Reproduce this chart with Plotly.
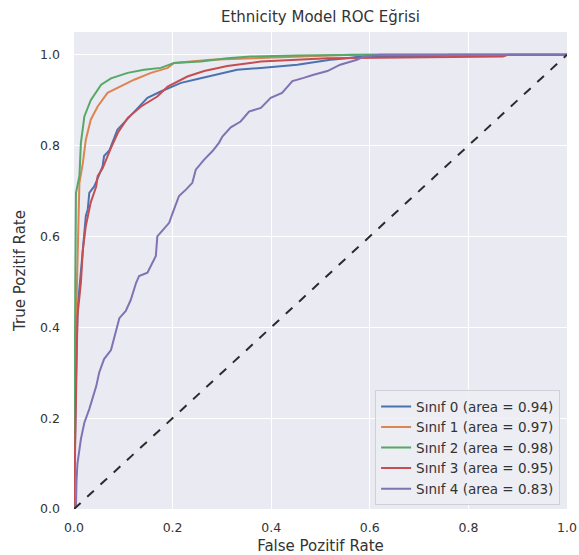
import plotly.graph_objects as go

# ---- data ----
class_names = ["Sınıf 0", "Sınıf 1", "Sınıf 2", "Sınıf 3", "Sınıf 4"]
class_auc = [0.94, 0.97, 0.98, 0.95, 0.83]

fpr_0 = [0, 0.002, 0.005, 0.008, 0.011, 0.014, 0.018, 0.024, 0.028, 0.031, 0.041, 0.045, 0.058, 0.061, 0.072,
         0.088, 0.105, 0.122, 0.149, 0.176, 0.217, 0.257, 0.291, 0.331, 0.379, 0.453, 0.52, 0.554, 0.58, 0.62,
         0.74, 0.76, 1.0]
tpr_0 = [0, 0.16, 0.35, 0.45, 0.484, 0.513, 0.571, 0.645, 0.66, 0.696, 0.71, 0.72, 0.754, 0.777, 0.79,
         0.835, 0.855, 0.875, 0.905, 0.919, 0.938, 0.948, 0.956, 0.967, 0.971, 0.978, 0.989, 0.992, 0.996, 0.997,
         0.997, 1.0, 1.0]

fpr_1 = [0, 0.002, 0.005, 0.007, 0.011, 0.018, 0.024, 0.034, 0.048, 0.068, 0.095, 0.122, 0.156, 0.19, 0.203,
         0.243, 0.277, 0.364, 0.5, 0.56, 1.0]
tpr_1 = [0, 0.3, 0.45, 0.542, 0.718, 0.762, 0.813, 0.857, 0.886, 0.916, 0.93, 0.945, 0.96, 0.971, 0.982,
         0.985, 0.989, 0.992, 0.998, 1.0, 1.0]

fpr_2 = [0, 0.001, 0.003, 0.004, 0.011, 0.014, 0.021, 0.034, 0.055, 0.075, 0.109, 0.142, 0.176, 0.203, 0.257,
         0.311, 0.358, 0.45, 0.6, 1.0]
tpr_2 = [0, 0.3, 0.55, 0.696, 0.733, 0.806, 0.864, 0.9, 0.934, 0.948, 0.96, 0.967, 0.971, 0.982, 0.985,
         0.992, 0.996, 0.998, 1.0, 1.0]

fpr_3 = [0, 0.004, 0.006, 0.007, 0.014, 0.018, 0.024, 0.034, 0.045, 0.048, 0.058, 0.075, 0.09, 0.109, 0.136,
         0.169, 0.19, 0.23, 0.264, 0.311, 0.379, 0.514, 0.87, 0.88, 1.0]
tpr_3 = [0, 0.28, 0.4, 0.425, 0.498, 0.571, 0.623, 0.675, 0.71, 0.733, 0.75, 0.795, 0.83, 0.861, 0.886,
         0.908, 0.93, 0.952, 0.964, 0.975, 0.985, 0.992, 0.996, 1.0, 1.0]

fpr_4 = [0, 0.004, 0.005, 0.007, 0.014, 0.021, 0.031, 0.045, 0.051, 0.061, 0.075, 0.085, 0.092, 0.105, 0.115,
         0.126, 0.132, 0.149, 0.159, 0.166, 0.169, 0.183, 0.193, 0.203, 0.213, 0.227, 0.24, 0.247, 0.264, 0.281,
         0.294, 0.301, 0.318, 0.338, 0.355, 0.379, 0.399, 0.422, 0.443, 0.466, 0.486, 0.514, 0.54, 0.574, 0.588,
         0.62, 1.0]
tpr_4 = [0, 0.007, 0.06, 0.1, 0.154, 0.19, 0.22, 0.27, 0.3, 0.33, 0.35, 0.39, 0.42, 0.436, 0.46,
         0.498, 0.513, 0.52, 0.542, 0.557, 0.6, 0.617, 0.63, 0.66, 0.689, 0.703, 0.718, 0.747, 0.769, 0.788,
         0.806, 0.82, 0.84, 0.853, 0.875, 0.883, 0.905, 0.916, 0.942, 0.949, 0.956, 0.964, 0.978, 0.989, 0.996,
         1.0, 1.0]

diag_x = [0, 1]
diag_y = [0, 1]

x_ticks = [0.0, 0.2, 0.4, 0.6, 0.8, 1.0]
y_ticks = [0.0, 0.2, 0.4, 0.6, 0.8, 1.0]

colors = ["#4C72B0", "#DD8452", "#55A868", "#C44E52", "#8172B3"]
fprs = [fpr_0, fpr_1, fpr_2, fpr_3, fpr_4]
tprs = [tpr_0, tpr_1, tpr_2, tpr_3, tpr_4]

FONT = "DejaVu Sans"
TXT = "#333333"

fig = go.Figure()
for name, auc, fx, ty, c in zip(class_names, class_auc, fprs, tprs, colors):
    fig.add_trace(go.Scatter(
        x=fx, y=ty, mode="lines",
        name=f"{name} (area = {auc:.2f})",
        line=dict(color=c, width=2),
    ))

fig.add_trace(go.Scatter(
    x=diag_x, y=diag_y, mode="lines", showlegend=False,
    line=dict(color="#2b2b2b", width=2, dash="dash"),
))

L, R, T, B = 74, 12, 32, 46
fig.update_layout(
    width=579, height=555,
    margin=dict(l=L, r=R, t=T, b=B, autoexpand=False),
    paper_bgcolor="white",
    plot_bgcolor="#EAEAF2",
    font=dict(family=FONT, size=12, color=TXT),
    title=dict(text="Ethnicity Model ROC Eğrisi", x=(L + (579 - L - R) / 2) / 579, xanchor="center",
               y=1 - 17 / 555, yanchor="middle", font=dict(size=15, color=TXT)),
    legend=dict(
        x=0.986, y=0.008, xanchor="right", yanchor="bottom",
        bgcolor="rgba(237,237,244,0.85)", bordercolor="#d0d0d8", borderwidth=1,
        font=dict(size=13.5, color=TXT), itemwidth=30, tracegroupgap=0,
    ),
    showlegend=True,
)

fig.update_xaxes(
    range=[0, 1], tickvals=x_ticks, ticktext=[f"{v:.1f}" for v in x_ticks],
    showgrid=True, gridcolor="white", gridwidth=1, zeroline=False, showline=False,
    ticks="", tickfont=dict(size=12.5, color=TXT), ticklabelstandoff=9, automargin=False,
    title=dict(text="False Pozitif Rate", font=dict(size=15, color=TXT), standoff=6),
)
fig.update_yaxes(
    range=[0, 1.05], tickvals=y_ticks, ticktext=[f"{v:.1f}" for v in y_ticks],
    showgrid=True, gridcolor="white", gridwidth=1, zeroline=False, showline=False,
    ticks="", tickfont=dict(size=12.5, color=TXT), ticklabelstandoff=13, automargin=False,
    title=dict(text="True Pozitif Rate", font=dict(size=15, color=TXT), standoff=10),
)

fig.write_html("out.html", post_script="document.body.style.margin='0';",
               config={"displayModeBar": False})
